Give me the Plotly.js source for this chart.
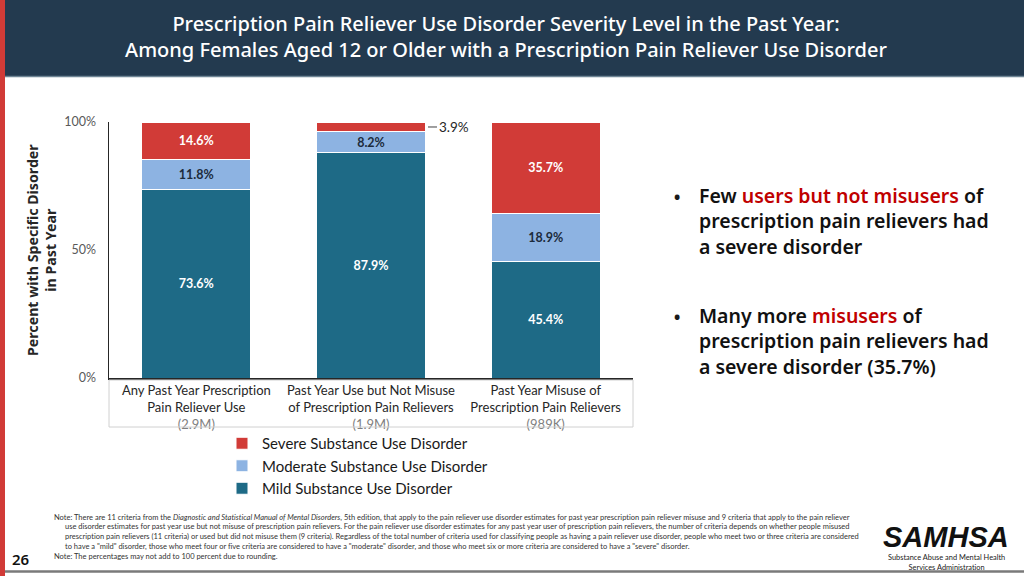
<!DOCTYPE html>
<html>
<head>
<meta charset="utf-8">
<script src="https://cdn.plot.ly/plotly-3.0.1.min.js"></script>
<style>
html,body{margin:0;padding:0;background:#fff;}
#chart{width:1024px;height:576px;}
svg text{font-variant-ligatures:none !important;font-feature-settings:"liga" 0,"clig" 0 !important;}
</style>
</head>
<body>
<div id="chart"></div>
<script>
// ---- data ----
var categories = [
  "Any Past Year Prescription<br>Pain Reliever Use<br><span style='color:#7f7f7f'>(2.9M)</span>",
  "Past Year Use but Not Misuse<br>of Prescription Pain Relievers<br><span style='color:#7f7f7f'>(1.9M)</span>",
  "Past Year Misuse of<br>Prescription Pain Relievers<br><span style='color:#7f7f7f'>(989K)</span>"
];
var mildValues = [73.6, 87.9, 45.4];
var moderateValues = [11.8, 8.2, 18.9];
var severeValues = [14.6, 3.9, 35.7];
var seriesNames = ["Mild Substance Use Disorder", "Moderate Substance Use Disorder", "Severe Substance Use Disorder"];
var yTickValues = [0, 50, 100];
var yTickLabels = ["0%", "50%", "100%"];

// ---- layout helpers (pixel -> paper) ----
var L = 109, R = 633, T = 122, B = 378;
function px(x){ return (x - L) / (R - L); }
function py(y){ return (B - y) / (B - T); }

var FONT = "Lato, 'Noto Sans', sans-serif";
var NOTO = "'Noto Sans', 'Open Sans', sans-serif";
function lbl(v, minV){ return v >= minV ? v.toFixed(1) + "%" : ""; }

var barWidth = 0.625;
var traces = [
  {type:"bar", name:seriesNames[0], x:categories, y:mildValues,
   marker:{color:"#1e6a86", line:{color:"#ffffff", width:1}},
   text:mildValues.map(function(v){return lbl(v,5);}), textposition:"inside", insidetextanchor:"middle",
   textangle:0, constraintext:"none",
   textfont:{color:"#ffffff", size:12.5, family:FONT, weight:700}, width:barWidth, hoverinfo:"skip"},
  {type:"bar", name:seriesNames[1], x:categories, y:moderateValues,
   marker:{color:"#8db3e2", line:{color:"#ffffff", width:1}},
   text:moderateValues.map(function(v){return lbl(v,5);}), textposition:"inside", insidetextanchor:"middle",
   textangle:0, constraintext:"none",
   textfont:{color:"#1c2b3c", size:12.5, family:FONT, weight:700}, width:barWidth, hoverinfo:"skip"},
  {type:"bar", name:seriesNames[2], x:categories, y:severeValues,
   marker:{color:"#d13b37", line:{color:"#ffffff", width:1}},
   text:severeValues.map(function(v){return lbl(v,5);}), textposition:"inside", insidetextanchor:"middle",
   textangle:0, constraintext:"none",
   textfont:{color:"#ffffff", size:12.5, family:FONT, weight:700}, width:barWidth, hoverinfo:"skip"}
];

var annotations = [];
// small-segment outside labels
severeValues.forEach(function(v, i){
  if (v < 5) {
    annotations.push({x:categories[i], y:100 - v/2, xref:"x", yref:"y", text:v.toFixed(1)+"%",
      showarrow:true, arrowhead:0, arrowwidth:1, arrowcolor:"#404040", ax:9, ay:0, xshift:57,
      xanchor:"left", yanchor:"middle", font:{family:FONT, size:13.5, color:"#262626"}});
  }
});
// y axis title
annotations.push({xref:"paper", yref:"paper", x:px(41), y:py(250), xanchor:"center", yanchor:"middle", textangle:-90, showarrow:false,
  text:"Percent with Specific Disorder<br>in Past Year", font:{family:NOTO, size:14.2, color:"#262626", weight:700}});
// bullets
function bullet(yTop, html){
  annotations.push({xref:"paper", yref:"paper", x:px(671), y:py(yTop - 1), xanchor:"left", yanchor:"top", showarrow:false,
    text:"•", font:{family:NOTO, size:22, color:"#1a1a1a"}});
  annotations.push({xref:"paper", yref:"paper", x:px(697), y:py(yTop), xanchor:"left", yanchor:"top", showarrow:false,
    align:"left", text:html, font:{family:NOTO, size:19.5, color:"#111111", weight:600}});
}
bullet(180, "Few <span style='color:#c00000'>users but not misusers</span> of<br>prescription pain relievers had<br>a severe disorder");
bullet(300, "Many more <span style='color:#c00000'>misusers</span> of<br>prescription pain relievers had<br>a severe disorder (35.7%)");
// notes
var noteFont = {family:FONT, size:7.5, color:"#333333"};
annotations.push({xref:"paper", yref:"paper", x:px(52), y:py(511), xanchor:"left", yanchor:"top", showarrow:false, align:"left",
  text:"Note: There are 11 criteria from the <i>Diagnostic and Statistical Manual of Mental Disorders</i>, 5th edition, that apply to the pain reliever use disorder estimates for past year prescription pain reliever misuse and 9 criteria that apply to the pain reliever",
  font:noteFont});
annotations.push({xref:"paper", yref:"paper", x:px(63), y:py(520), xanchor:"left", yanchor:"top", showarrow:false, align:"left",
  text:"use disorder estimates for past year use but not misuse of prescription pain relievers. For the pain reliever use disorder estimates for any past year user of prescription pain relievers, the number of criteria depends on whether people misused<br>prescription pain relievers (11 criteria) or used but did not misuse them (9 criteria). Regardless of the total number of criteria used for classifying people as having a pain reliever use disorder, people who meet two or three criteria are considered<br>to have a \"mild\" disorder, those who meet four or five criteria are considered to have a \"moderate\" disorder, and those who meet six or more criteria are considered to have a \"severe\" disorder.",
  font:noteFont});
annotations.push({xref:"paper", yref:"paper", x:px(52), y:py(550), xanchor:"left", yanchor:"top", showarrow:false, align:"left",
  text:"Note: The percentages may not add to 100 percent due to rounding.", font:noteFont});
// page number
annotations.push({xref:"paper", yref:"paper", x:px(21), y:py(559), xanchor:"center", yanchor:"middle", showarrow:false,
  text:"26", font:{family:NOTO, size:15, color:"#111111", weight:600}});
// logo text
annotations.push({xref:"paper", yref:"paper", x:px(946), y:py(537), xanchor:"center", yanchor:"middle", showarrow:false, borderpad:0,
  text:"<b><i>SAMHSA</i></b>", font:{family:"'Liberation Sans', Arial, sans-serif", size:29, color:"#111111"}});
annotations.push({xref:"paper", yref:"paper", x:px(946), y:py(562), xanchor:"center", yanchor:"middle", showarrow:false, borderpad:0,
  text:"Substance Abuse and Mental Health<br>Services Administration", font:{family:FONT, size:7.4, color:"#222222"}});

var shapes = [
  // header bar
  {type:"rect", xref:"paper", yref:"paper", x0:px(0), x1:px(1024), y0:py(0), y1:py(76), fillcolor:"#233a4f", line:{width:0}, layer:"below"},
  {type:"line", xref:"paper", yref:"paper", x0:px(0), x1:px(1024), y0:py(76.5), y1:py(76.5), line:{color:"#6e8595", width:1.5}},
  // left red stripe
  {type:"rect", xref:"paper", yref:"paper", x0:px(0), x1:px(5), y0:py(0), y1:py(576), fillcolor:"#d13b37", line:{width:0}},
  // bottom line
  {type:"line", xref:"paper", yref:"paper", x0:px(5), x1:px(1024), y0:py(571.5), y1:py(571.5), line:{color:"#7a7a7a", width:2.5}},
  // category label box
  {type:"rect", xref:"paper", yref:"paper", x0:0, x1:1, y0:py(380), y1:py(427), line:{color:"#d0d0d0", width:1}, fillcolor:"rgba(0,0,0,0)"}
];

var layout = {
  width:1024, height:576,
  margin:{l:L, r:1024-R, t:T, b:576-B, pad:0},
  paper_bgcolor:"#ffffff", plot_bgcolor:"#ffffff",
  font:{family:FONT, color:"#262626"},
  barmode:"stack", bargap:0.375,
  title:{text:"Prescription Pain Reliever Use Disorder Severity Level in the Past Year:<br>Among Females Aged 12 or Older with a Prescription Pain Reliever Use Disorder",
    x:506/1024, xref:"container", xanchor:"center", y:1-31/576, yref:"container", yanchor:"middle",
    font:{family:NOTO, size:20, color:"#ffffff", weight:500}},
  xaxis:{type:"category", showline:true, linecolor:"#262626", linewidth:1.5, ticks:"", showgrid:false, zeroline:false,
    tickfont:{family:FONT, size:13, color:"#262626"}, fixedrange:true},
  yaxis:{range:[0,100], tickvals:yTickValues, ticktext:yTickLabels, showline:true, linecolor:"#262626", linewidth:1.5,
    ticks:"", showgrid:false, zeroline:false, ticklabelstandoff:9, tickfont:{family:FONT, size:12.5, color:"#595959"}, fixedrange:true},
  showlegend:true,
  legend:{traceorder:"reversed", x:px(222), y:py(427), xanchor:"left", yanchor:"top", bgcolor:"rgba(0,0,0,0)",
    font:{family:FONT, size:15, color:"#1a1a1a"}, itemclick:false, itemdoubleclick:false},
  annotations:annotations,
  shapes:shapes
};

Plotly.newPlot("chart", traces, layout, {displayModeBar:false, staticPlot:true});
</script>
</body>
</html>
